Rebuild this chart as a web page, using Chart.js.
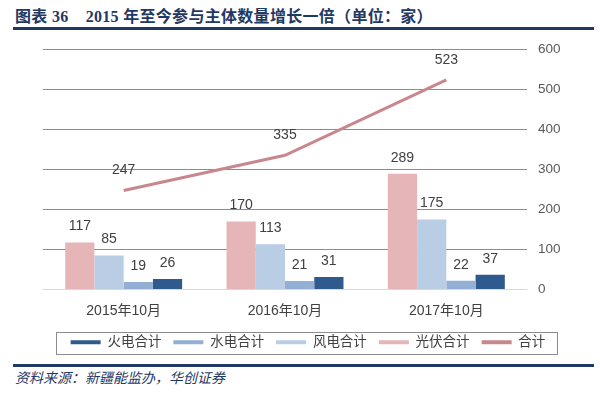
<!DOCTYPE html>
<html>
<head>
<meta charset="utf-8">
<script src="https://cdn.jsdelivr.net/npm/chart.js@4"></script>
<style>
  html, body { margin: 0; padding: 0; background: #fff; }
  body { width: 600px; height: 393px; position: relative; overflow: hidden; }
  #title {
    position: absolute; left: 15px; top: 3px;
    font: bold 16px "Liberation Serif", "Noto Sans CJK SC", serif;
    letter-spacing: 0.3px;
    color: #1f3864; white-space: pre;
  }
  .rule { position: absolute; left: 13px; width: 581px; height: 3px; background: #1f3864; }
  #source {
    position: absolute; left: 15px; top: 367px;
    font: italic 14px "Liberation Serif", "Noto Sans CJK SC", serif;
    color: #1f3864;
  }
  #wrap { position: absolute; left: 0; top: 30px; width: 600px; height: 329px; }
</style>
</head>
<body>
<div id="title">图表 36    2015 年至今参与主体数量增长一倍（单位：家）</div>
<div class="rule" style="top:27px"></div>
<div id="wrap"><canvas id="chart"></canvas></div>
<div class="rule" style="top:364px"></div>
<div id="source">资料来源：新疆能监办，华创证券</div>

<script>
const categories = ['2015年10月', '2016年10月', '2017年10月'];
const solar = [117, 170, 289];
const wind = [85, 113, 175];
const hydro = [19, 21, 22];
const thermal = [26, 31, 37];
const total = [247, 335, 523];
const yMax = 600;
const yStep = 100;
const legendOrder = ['火电合计', '水电合计', '风电合计', '光伏合计', '合计'];

const font = '"Liberation Sans", "Noto Sans CJK SC", sans-serif';

// value labels above bars and line points
const valueLabels = {
  id: 'valueLabels',
  afterDatasetsDraw(chart) {
    const ctx = chart.ctx;
    ctx.save();
    ctx.font = '14px ' + font;
    ctx.fillStyle = '#404040';
    ctx.textAlign = 'center';
    ctx.textBaseline = 'middle';
    chart.data.datasets.forEach((ds, i) => {
      const meta = chart.getDatasetMeta(i);
      const off = ds.type === 'line' ? 20 : 16;
      meta.data.forEach((el, j) => {
        ctx.fillText(ds.data[j], el.x, el.y - off);
      });
    });
    ctx.restore();
  }
};

// frame around the legend
const legendFrame = {
  id: 'legendFrame',
  afterDraw(chart) {
    const boxes = chart.legend.legendHitBoxes;
    if (!boxes || !boxes.length) return;
    const left = Math.min(...boxes.map(b => b.left)) - 15;
    const right = Math.max(...boxes.map(b => b.left + b.width)) + 11;
    const top = boxes[0].top - 4;
    const bottom = boxes[0].top + boxes[0].height + 4;
    const ctx = chart.ctx;
    ctx.save();
    ctx.strokeStyle = '#8c8c8c';
    ctx.lineWidth = 1;
    ctx.strokeRect(Math.round(left) + 0.5, Math.round(top) + 0.5, Math.round(right - left), Math.round(bottom - top));
    ctx.restore();
  }
};

new Chart(document.getElementById('chart'), {
  data: {
    labels: categories,
    datasets: [
      { type: 'bar', label: '光伏合计', data: solar, backgroundColor: '#e6b5b8' },
      { type: 'bar', label: '风电合计', data: wind, backgroundColor: '#b9cde4' },
      { type: 'bar', label: '水电合计', data: hydro, backgroundColor: '#93afd4' },
      { type: 'bar', label: '火电合计', data: thermal, backgroundColor: '#2f5a8e' },
      { type: 'line', label: '合计', data: total, borderColor: '#c8878c', backgroundColor: '#c8878c',
        borderWidth: 3, pointRadius: 0, tension: 0 }
    ]
  },
  options: {
    responsive: true,
    maintainAspectRatio: false,
    animation: false,
    layout: { padding: { left: 43, top: 9, right: 27, bottom: 0 } },
    datasets: {
      bar: { categoryPercentage: 0.725, barPercentage: 1, borderWidth: 0 }
    },
    scales: {
      x: {
        grid: { display: false },
        border: { display: false },
        ticks: { font: { size: 14, family: font }, color: '#404040', padding: 5 },
        afterFit(s) { s.height = 34; }
      },
      y: {
        position: 'right',
        min: 0,
        max: yMax,
        ticks: { stepSize: yStep, font: { size: 13.5, family: font }, color: '#595959', padding: 11 },
        grid: {
          drawTicks: false,
          color: c => c.tick.value === 0 ? '#d9d9d9' : '#8c8c8c'
        },
        border: { display: false },
        afterFit(s) { s.width = 46; }
      }
    },
    plugins: {
      legend: {
        position: 'bottom',
        labels: {
          boxWidth: 30,
          boxHeight: 4,
          padding: 12,
          color: '#404040',
          font: { size: 13.5, family: font },
          sort: (a, b) => legendOrder.indexOf(a.text) - legendOrder.indexOf(b.text),
          generateLabels(chart) {
            const items = Chart.defaults.plugins.legend.labels.generateLabels(chart);
            items.forEach(it => { it.lineWidth = 0; });
            return items;
          }
        }
      },
      tooltip: { enabled: false }
    }
  },
  plugins: [valueLabels, legendFrame]
});
</script>
</body>
</html>
